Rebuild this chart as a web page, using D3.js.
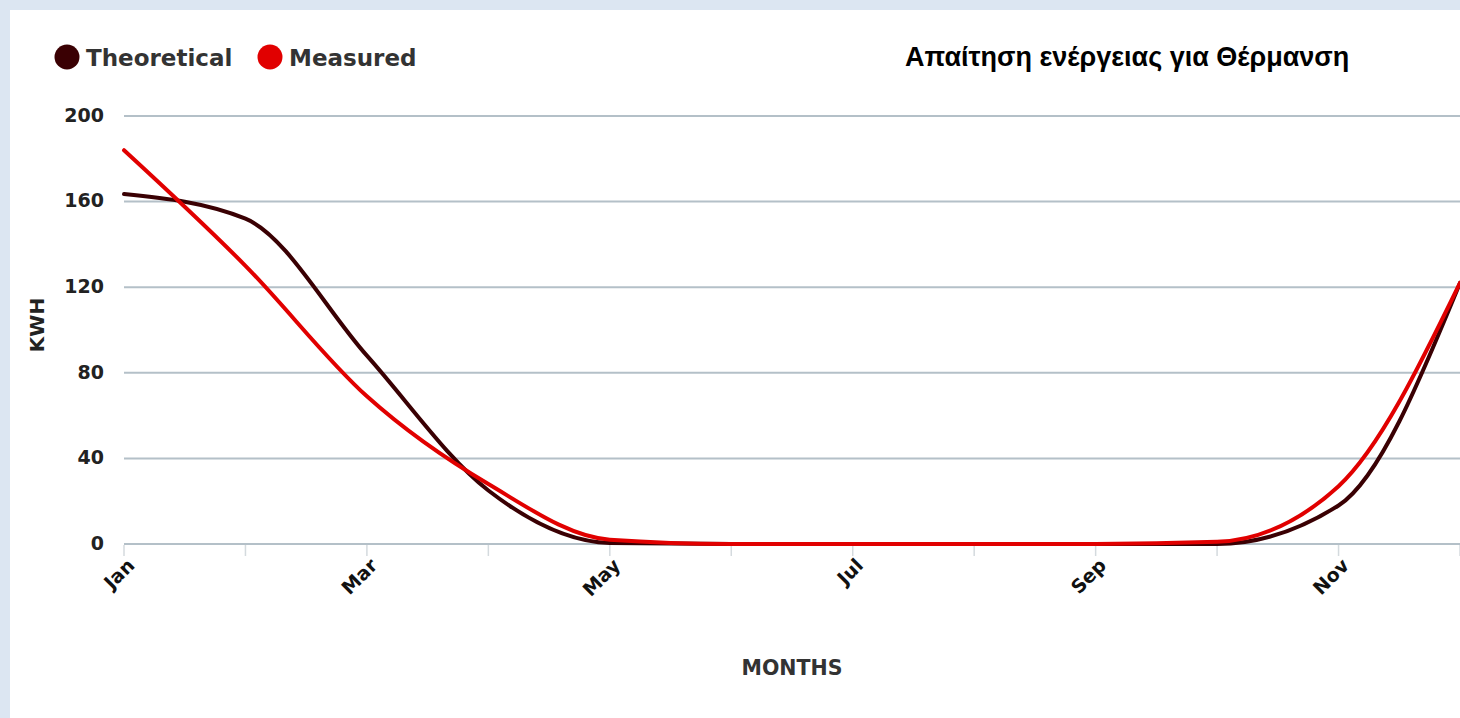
<!DOCTYPE html>
<html><head><meta charset="utf-8">
<script src="https://cdn.jsdelivr.net/npm/d3@7/dist/d3.min.js"></script>
<style>html,body{margin:0;padding:0;background:#dce6f2;overflow:hidden}</style>
</head><body>
<svg id="c" width="1460" height="718"></svg>
<script>
const months = ["Jan","Feb","Mar","Apr","May","Jun","Jul","Aug","Sep","Oct","Nov","Dec"];
const monthLabels = ["Jan","Mar","May","Jul","Sep","Nov"];
const theoretical = [163.5, 152, 88, 25, 0.5, 0, 0, 0, 0, 0, 18, 122];
const measured = [184, 130, 69, 28, 2, 0, 0, 0, 0, 1, 27, 122];
const yTicks = [0, 40, 80, 120, 160, 200];
const seriesNames = ["Theoretical", "Measured"];
const seriesColors = ["#3a0003", "#e10000"];
const title = "Απαίτηση ενέργειας για Θέρμανση";

const svg = d3.select("#c");
svg.append("rect").attr("x",10).attr("y",10).attr("width",1450).attr("height",708).attr("fill","#ffffff");

const x = d3.scalePoint().domain(months).range([124, 1460]);
const y = d3.scaleLinear().domain([0, 200]).range([544, 116]);

// grid
svg.append("g").selectAll("line").data(yTicks).join("line")
  .attr("x1",124).attr("x2",1460)
  .attr("y1",d=>y(d)).attr("y2",d=>y(d))
  .attr("stroke","#b4c0c8").attr("stroke-width",2);

// y labels
svg.append("g").selectAll("text").data(yTicks).join("text")
  .attr("x",104).attr("y",d=>y(d)).attr("dy","0.3em")
  .attr("text-anchor","end")
  .attr("font-family","DejaVu Sans").attr("font-weight","bold").attr("font-size",19)
  .attr("fill","#222").text(d=>d);

// x ticks
svg.append("g").selectAll("line").data(months).join("line")
  .attr("x1",d=>x(d)).attr("x2",d=>x(d))
  .attr("y1",545).attr("y2",556)
  .attr("stroke","#d4dade").attr("stroke-width",1.5);

// x labels
svg.append("g").selectAll("text").data(monthLabels).join("text")
  .attr("transform",d=>`translate(${x(d)+7},${562}) rotate(-45)`)
  .attr("text-anchor","end")
  .attr("dy","0.35em")
  .attr("font-family","DejaVu Sans").attr("font-weight","bold").attr("font-size",19)
  .attr("fill","#111").text(d=>d);

// lines
const line = d3.line().x((d,i)=>x(months[i])).y(d=>y(d)).curve(d3.curveMonotoneX);
[theoretical, measured].forEach((s,i)=>{
  svg.append("path").datum(s).attr("d",line)
    .attr("fill","none").attr("stroke",seriesColors[i]).attr("stroke-width",4)
    .attr("stroke-linejoin","round").attr("stroke-linecap","round");
});

// axis titles
svg.append("text").attr("transform","translate(37,325) rotate(-90)")
  .attr("text-anchor","middle").attr("dy","0.35em").attr("font-family","DejaVu Sans").attr("font-weight","bold")
  .attr("font-size",20).attr("fill","#222").text("KWH");
svg.append("text").attr("x",792).attr("y",675)
  .attr("text-anchor","middle").attr("font-family","DejaVu Sans").attr("font-weight","bold")
  .attr("font-size",20.5).attr("fill","#333").text("MONTHS");

// legend
const legX = [67, 270];
seriesNames.forEach((n,i)=>{
  svg.append("circle").attr("cx",legX[i]).attr("cy",57).attr("r",12.5).attr("fill",seriesColors[i]);
  svg.append("text").attr("x",legX[i]+19).attr("y",58).attr("dy","0.35em")
    .attr("font-family","DejaVu Sans").attr("font-weight","bold").attr("font-size",23)
    .attr("fill","#333").text(n);
});

// title
svg.append("text").attr("x",905).attr("y",57).attr("dy","0.35em")
  .attr("font-family","Liberation Sans").attr("font-weight","bold").attr("font-size",27)
  .attr("fill","#000").text(title);
</script>
</body></html>
